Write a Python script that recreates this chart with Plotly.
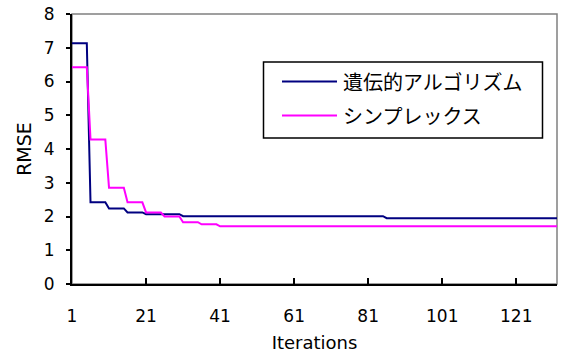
import plotly.graph_objects as go

# ---- data ----
iterations = list(range(1, 133))
series_names = ["遺伝的アルゴリズム", "シンプレックス"]
ga_rmse = ([7.13] * 5 + [2.42] * 5 + [2.24] * 5 + [2.12] * 5 + [2.07] * 10
           + [2.01] * 55 + [1.95] * 47)
simplex_rmse = ([6.42] * 5 + [4.28] * 5 + [2.85] * 5 + [2.42] * 5 + [2.12] * 5
                + [2.00] * 5 + [1.83] * 5 + [1.77] * 5 + [1.71] * 92)
x_tick_values = [1, 21, 41, 61, 81, 101, 121]
x_tick_labels = ["1", "21", "41", "61", "81", "101", "121"]
y_tick_values = [0, 1, 2, 3, 4, 5, 6, 7, 8]

colors = ["#000080", "#FF00FF"]
W, H = 565, 354
ML, MR, MT, MB = 72, 8, 14, 70
PW, PH = W - ML - MR, H - MT - MB


def px_x(p):
    return (p - ML) / PW


def px_y(p):
    return (H - MB - p) / PH


fig = go.Figure()
for name, ys, c in zip(series_names, [ga_rmse, simplex_rmse], colors):
    fig.add_trace(go.Scatter(x=iterations, y=ys, mode="lines", name=name,
                             line=dict(color=c, width=2), showlegend=False))

tick_font = dict(family="DejaVu Sans", size=17, color="black")
fig.update_layout(
    width=W, height=H,
    margin=dict(l=ML, r=MR, t=MT, b=MB, pad=0, autoexpand=False),
    paper_bgcolor="white", plot_bgcolor="white",
    xaxis=dict(range=[1, 132], tickvals=x_tick_values, ticktext=x_tick_labels,
               automargin=False,
               showgrid=False, zeroline=False, showline=True, linecolor="black",
               linewidth=2, ticks="inside", ticklen=6, tickwidth=1.5,
               tickcolor="black", tickfont=tick_font, ticklabelstandoff=16,
               title=dict(text="Iterations", standoff=11,
                          font=dict(family="DejaVu Sans", size=18, color="black"))),
    yaxis=dict(range=[0, 8], tickvals=y_tick_values, showgrid=False,
               automargin=False,
               zeroline=False, showline=True, linecolor="black", linewidth=2,
               ticks="outside", ticklen=4, tickwidth=1.5, tickcolor="black",
               tickfont=tick_font, ticklabelstandoff=8,
               title=dict(text="RMSE", standoff=7,
                          font=dict(family="DejaVu Sans", size=19, color="black"))),
)

# plot-area frame (grey top/right edges)
fig.add_shape(type="rect", xref="paper", yref="paper", x0=0, y0=0, x1=1, y1=1,
              line=dict(color="#808080", width=1.5), layer="below")

# legend box drawn by hand
lx0, lx1, ly0, ly1 = 263.5, 542.5, 62, 138
fig.add_shape(type="rect", xref="paper", yref="paper",
              x0=px_x(lx0), x1=px_x(lx1), y0=px_y(ly1), y1=px_y(ly0),
              line=dict(color="black", width=1.5), fillcolor="white", layer="above")
for i, (name, c) in enumerate(zip(series_names, colors)):
    yy = 81.5 + i * 34
    fig.add_shape(type="line", xref="paper", yref="paper",
                  x0=px_x(282), x1=px_x(337), y0=px_y(yy), y1=px_y(yy),
                  line=dict(color=c, width=2), layer="above")
    fig.add_annotation(xref="paper", yref="paper", x=px_x(341), y=px_y(yy),
                       text=name, showarrow=False, xanchor="left", yanchor="middle",
                       font=dict(family="Noto Sans CJK JP", size=20, color="black"))

fig.write_html("out.html",
               config={"displayModeBar": False},
               post_script="document.body.style.margin='0';"
                           "document.body.style.overflow='hidden';")
